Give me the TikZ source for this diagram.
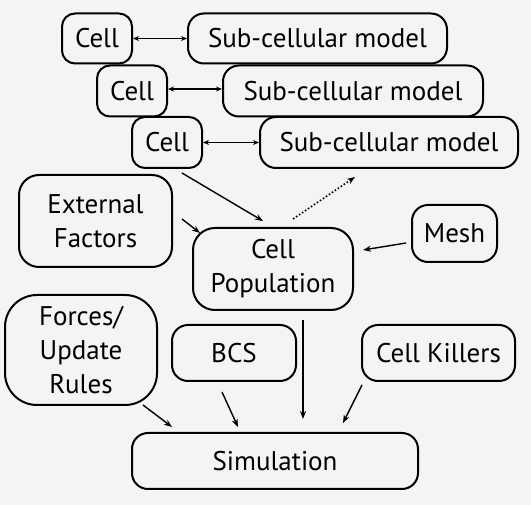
\documentclass[tikz,border=0pt]{standalone}
\usepackage{fontspec}
\setmainfont{PT Sans}
\usetikzlibrary{arrows.meta}
\definecolor{bg}{HTML}{F4F4F4}
\begin{document}
\begin{tikzpicture}[x=1pt,y=-1pt,
  box/.style={draw=black, line width=2pt, rounded corners=#1, align=center, inner sep=0pt,
    font=\fontsize{27}{34}\selectfont},
  box/.default=13pt,
  arr/.style={line width=1.4pt, -{Stealth[length=8pt,width=6pt]}},
  darr/.style={line width=1.4pt, {Stealth[length=6pt,width=5pt]}-{Stealth[length=6pt,width=5pt]}},
  dotarr/.style={line width=1.6pt, dotted, -{Stealth[length=8pt,width=6pt]}}]
\fill[bg] (0,0) rectangle (531,505);
\useasboundingbox (0,0) rectangle (531,505);
% top rows
\node[box, minimum width=70pt, minimum height=50pt] (cell1) at (97,38.5) {Cell};
\node[box=16pt, minimum width=259pt, minimum height=50pt] (sub1) at (317.5,38.5) {Sub-cellular model};
\node[box, minimum width=70pt, minimum height=51pt] (cell2) at (132,91) {Cell};
\node[box=16pt, minimum width=260pt, minimum height=51pt] (sub2) at (353,91) {Sub-cellular model};
\node[box, minimum width=70pt, minimum height=51pt] (cell3) at (167,142.5) {Cell};
\node[box=16pt, minimum width=258pt, minimum height=51pt] (sub3) at (389,142.5) {Sub-cellular model};
% middle
\node[box=20pt, minimum width=153pt, minimum height=92pt] (ext) at (95.5,221) {External\\Factors};
\node[box=22pt, minimum width=160pt, minimum height=82pt] (pop) at (273,269) {Cell\\Population};
\node[box=16pt, minimum width=85pt, minimum height=57pt] (mesh) at (454.5,233.5) {Mesh};
% bottom
\node[box=32pt, minimum width=152pt, minimum height=110pt] (forces) at (81,350) {Forces/\\Update\\Rules};
\node[box=16pt, minimum width=124pt, minimum height=56pt] (bcs) at (234,353) {BCS};
\node[box=16pt, minimum width=153pt, minimum height=56pt] (killers) at (438.5,353) {Cell Killers};
\node[box=16pt, minimum width=286pt, minimum height=56pt] (sim) at (275,461) {Simulation};
% arrow end points
\coordinate (c3a) at (182,173);
\coordinate (popa) at (263,221);
\coordinate (exta) at (182,219);
\coordinate (popb) at (200,233);
\coordinate (popc) at (293,219);
\coordinate (sub3a) at (355,177);
\coordinate (mesha) at (406,243);
\coordinate (popd) at (363,250);
\coordinate (forcesa) at (143,405);
\coordinate (sima) at (172,427);
\coordinate (bcsa) at (222,392);
\coordinate (simb) at (238,427);
\coordinate (pope) at (303,320);
\coordinate (simc) at (303,419);
\coordinate (killersa) at (362,385);
\coordinate (simd) at (343,423);
% connectors
\draw[darr] (cell1.east) -- (sub1.west);
\draw[darr] ([yshift=2pt]cell2.east) -- ([yshift=2pt]sub2.west);
\draw[darr] (cell3.east) -- (sub3.west);
\draw[arr] (c3a) -- (popa);
\draw[arr] (exta) -- (popb);
\draw[dotarr] (popc) -- (sub3a);
\draw[arr] (mesha) -- (popd);
\draw[arr] (forcesa) -- (sima);
\draw[arr] (bcsa) -- (simb);
\draw[arr] (pope) -- (simc);
\draw[arr] (killersa) -- (simd);
\end{tikzpicture}
\end{document}
